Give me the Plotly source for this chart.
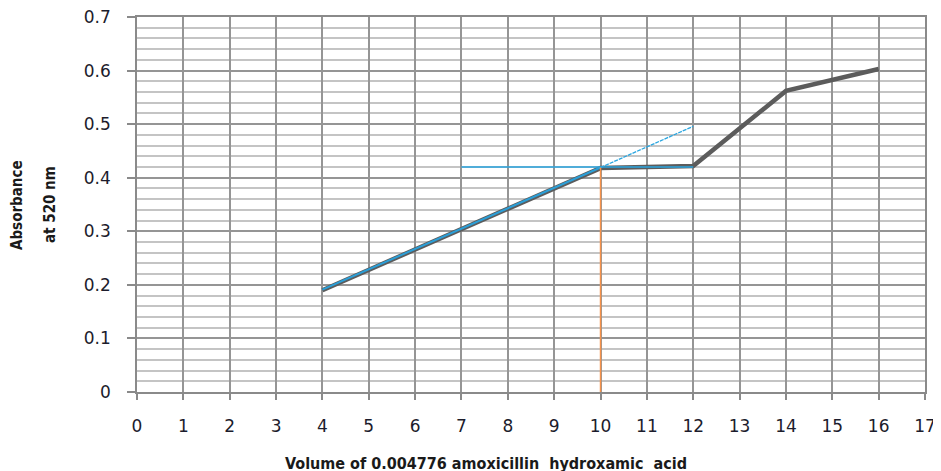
import plotly.graph_objects as go

# Data
vol = [4, 6, 8, 10, 12, 14, 16]
absorb = [0.190, 0.266, 0.342, 0.418, 0.422, 0.562, 0.603]

fit_x = [4, 10]
fit_y = [0.191, 0.419]
ext_x = [10, 12]
ext_y = [0.419, 0.496]
horiz_x = [7, 12]
horiz_y = [0.420, 0.420]
vert_x = [10, 10]
vert_y = [0.0, 0.419]

x_ticks = list(range(0, 18))
y_ticks = [0, 0.1, 0.2, 0.3, 0.4, 0.5, 0.6, 0.7]
y_labels = ["0", "0.1", "0.2", "0.3", "0.4", "0.5", "0.6", "0.7"]

fig = go.Figure()
fig.add_trace(go.Scatter(x=vol, y=absorb, mode="lines",
                         line=dict(color="#5c5c5c", width=4.5), hoverinfo="skip"))
fig.add_trace(go.Scatter(x=fit_x, y=fit_y, mode="lines",
                         line=dict(color="#2a9fd8", width=2), hoverinfo="skip"))
fig.add_trace(go.Scatter(x=ext_x, y=ext_y, mode="lines",
                         line=dict(color="#2aa6e0", width=1.3, dash="4px,1px"), hoverinfo="skip"))
fig.add_trace(go.Scatter(x=horiz_x, y=horiz_y, mode="lines",
                         line=dict(color="#2aa6e0", width=1.5), hoverinfo="skip"))
fig.add_trace(go.Scatter(x=vert_x, y=vert_y, mode="lines",
                         line=dict(color="#f7924a", width=1.5), hoverinfo="skip"))

tick_font = dict(family="DejaVu Sans", size=17, color="#1c1c2c")

fig.update_layout(
    width=933, height=463,
    margin=dict(l=129, r=16, t=9, b=79, autoexpand=False),
    paper_bgcolor="white", plot_bgcolor="white",
    showlegend=False,
    xaxis=dict(range=[0, 17], tickvals=x_ticks, ticktext=[str(v) for v in x_ticks],
               showgrid=True, gridcolor="#959595", gridwidth=1.5,
               showline=True, linecolor="#8a8a8a", linewidth=1.5, mirror=True,
               ticks="outside", ticklen=6, tickcolor="#8a8a8a", tickwidth=1.5,
               ticklabelstandoff=12, automargin=False, ticklabeloverflow="allow",
               tickfont=tick_font, zeroline=False, fixedrange=True),
    yaxis=dict(range=[0, 0.7], tickvals=y_ticks, ticktext=y_labels,
               showgrid=True, gridcolor="#959595", gridwidth=1.5,
               showline=True, linecolor="#8a8a8a", linewidth=1.5, mirror=True,
               ticks="outside", ticklen=8, tickcolor="#8a8a8a", tickwidth=1.5,
               ticklabelstandoff=13, automargin=False, ticklabeloverflow="allow",
               tickfont=tick_font, zeroline=False, fixedrange=True,
               minor=dict(dtick=0.02, showgrid=True, gridcolor="#c4c4c4", gridwidth=1.5)),
    annotations=[
        dict(text="<b>Volume of 0.004776 amoxicillin  hydroxamic  acid</b>",
             xref="paper", yref="paper", x=(478 - 129) / (933 - 129 - 16), y=0,
             yshift=-71, xanchor="center",
             yanchor="middle", showarrow=False,
             font=dict(family="DejaVu Sans Condensed", size=16, color="#1a1a1a")),
        dict(text="<b>Absorbance</b>",
             xref="paper", yref="paper", x=0, xshift=-120, y=(392 - 205) / 375,
             xanchor="center", yanchor="middle", showarrow=False, textangle=-90,
             font=dict(family="DejaVu Sans Condensed", size=15, color="#1a1a1a")),
        dict(text="<b>at 520 nm</b>",
             xref="paper", yref="paper", x=0, xshift=-87, y=(392 - 205) / 375,
             xanchor="center", yanchor="middle", showarrow=False, textangle=-90,
             font=dict(family="DejaVu Sans Condensed", size=15, color="#1a1a1a")),
    ],
)

fig.write_html("out.html")
